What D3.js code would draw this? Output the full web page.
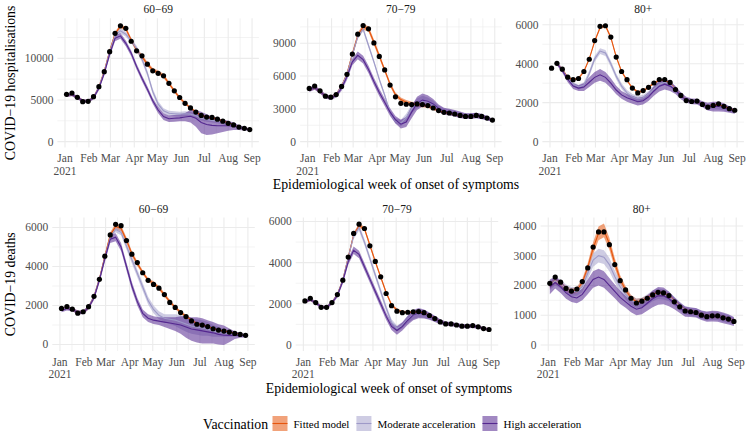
<!DOCTYPE html>
<html><head><meta charset="utf-8">
<script src="https://cdn.jsdelivr.net/npm/d3@7/dist/d3.min.js"></script>
<style>body{margin:0;background:#fff}svg{display:block}text{font-family:'Liberation Serif','Times New Roman',serif}</style>
</head><body><svg id="c" width="750" height="434"></svg>
<script>
// ---------- categories ----------
const weeks = ["2021-01-03","2021-01-10","2021-01-17","2021-01-24","2021-01-31","2021-02-07","2021-02-14","2021-02-21","2021-02-28","2021-03-07","2021-03-14","2021-03-21","2021-03-28","2021-04-04","2021-04-11","2021-04-18","2021-04-25","2021-05-02","2021-05-09","2021-05-16","2021-05-23","2021-05-30","2021-06-06","2021-06-13","2021-06-20","2021-06-27","2021-07-04","2021-07-11","2021-07-18","2021-07-25","2021-08-01","2021-08-08","2021-08-15","2021-08-22","2021-08-29"];
const monthBreaks = ["2021-01-01","2021-02-01","2021-03-01","2021-04-01","2021-05-01","2021-06-01","2021-07-01","2021-08-01","2021-09-01"];
const monthLabels = ["Jan\n2021","Feb","Mar","Apr","May","Jun","Jul","Aug","Sep"];
const scenarios = ["Fitted model","Moderate acceleration","High acceleration"];

// ---------- hospitalisations 60-69 ----------
const hosp6069Obs  = [5680,5840,5320,4800,4840,5400,6600,8400,10800,13000,13900,13600,12050,10900,10300,9300,8500,8200,7900,7000,6100,5300,4600,4050,3550,3150,2950,2900,2700,2450,2200,2000,1750,1600,1450];
const hosp6069Fit  = [5550,5650,5300,4900,4850,5300,6550,8450,10850,12950,13850,13550,12200,11000,10200,9300,8600,8300,7900,7000,6100,5250,4600,4050,3550,3150,2950,2850,2700,2450,2250,2000,1750,1600,1450];
const hosp6069FitW = [150,150,150,150,150,150,200,200,250,250,250,250,250,250,250,250,250,250,250,200,200,200,150,150,150,150,150,150,150,150,150,120,120,100,100];
const hosp6069Mod  = [5550,5650,5300,4900,4850,5300,6550,8400,10800,12800,13300,12900,12100,11200,9900,8200,6000,4500,3700,3400,3350,3300,3350,3300,3100,2800,2650,2550,2450,2300,2150,2000,1750,1600,1450];
const hosp6069ModW = [150,150,150,150,150,150,200,200,250,300,300,300,300,300,350,350,350,350,300,300,300,300,300,300,250,250,250,250,250,250,200,200,150,120,100];
const hosp6069High = [5550,5650,5300,4900,4850,5250,6400,8200,10500,12400,12700,11800,10600,9000,7600,6300,4900,3800,3000,2750,2800,2850,2950,3050,2800,2300,2050,1950,1900,1900,1900,1850,1700,1550,1450];
const hosp6069HighW= [200,200,200,200,200,200,250,250,300,350,350,350,350,350,350,350,350,400,400,400,400,400,500,750,1000,1300,1250,1100,900,750,600,450,300,200,150];
const hosp6069Ticks = [0,5000,10000];

// ---------- hospitalisations 70-79 ----------
const hosp7079Obs  = [4870,5090,4650,4160,4070,4310,5050,6160,8010,9830,10630,10320,9030,7800,6560,5180,4100,3510,3420,3390,3450,3390,3300,3080,2840,2680,2620,2530,2400,2310,2310,2400,2310,2160,1970];
const hosp7079Fit  = [4750,4950,4600,4150,4050,4300,5050,6200,8000,9700,10500,10300,9100,7850,6550,5250,4300,3850,3600,3450,3400,3350,3250,3050,2850,2700,2600,2500,2400,2300,2300,2350,2300,2150,1950];
const hosp7079FitW = [150,150,150,150,150,150,150,200,250,250,250,250,250,250,200,200,200,200,200,200,200,200,150,150,150,150,150,150,150,150,150,150,150,120,100];
const hosp7079Mod  = [4750,4950,4600,4150,4050,4300,5050,6150,7950,9600,10300,8800,7300,5700,4250,2650,1900,1700,2200,3000,3500,3750,3650,3400,3000,2800,2700,2600,2450,2350,2350,2400,2300,2150,1950];
const hosp7079ModW = [150,150,150,150,150,150,150,200,200,200,200,200,200,200,200,200,250,300,350,400,450,450,400,350,300,250,250,250,250,250,250,250,200,200,150];
const hosp7079High = [4750,4950,4600,4150,4000,4250,4900,5950,7300,7900,7500,6600,5500,4500,3600,2700,2000,1600,1800,2700,3500,3800,3700,3450,3050,2800,2700,2600,2450,2350,2350,2400,2300,2150,1950];
const hosp7079HighW= [200,200,200,200,200,200,250,300,300,350,350,350,350,350,350,350,350,400,450,550,600,600,550,450,350,300,300,300,300,250,250,250,250,200,150];
const hosp7079Ticks = [0,3000,6000,9000];

// ---------- hospitalisations 80+ ----------
const hosp80Obs  = [3770,4020,3720,3310,3180,3240,3600,4230,5190,5920,5950,5370,4340,3600,3180,2750,2500,2620,2790,3010,3190,3190,3040,2670,2370,2110,2060,2080,1910,1770,1860,1940,1810,1690,1610];
const hosp80Fit  = [null,4020,3700,3300,3180,3250,3600,4250,5150,5850,5950,5350,4350,3600,3150,2750,2550,2600,2800,3000,3150,3150,3000,2700,2400,2150,2070,2050,1920,1800,1850,1900,1800,1700,1600];
const hosp80FitW = [0,60,60,60,60,60,60,60,80,80,80,80,80,60,60,60,60,60,60,60,60,60,60,60,60,60,60,60,60,60,60,60,60,60,60];
const hosp80Mod  = [null,4020,3680,3250,2950,2800,2900,3500,4250,4650,4550,4000,3350,2850,2500,2300,2200,2250,2450,2700,2950,3050,2950,2700,2400,2150,2070,2050,1920,1800,1800,1800,1750,1650,1550];
const hosp80ModW = [0,100,100,100,100,120,150,150,150,150,150,150,150,150,150,150,150,150,150,150,150,150,150,130,120,100,100,100,100,120,150,150,150,120,100];
const hosp80High = [null,4020,3650,3200,2850,2750,2800,3050,3300,3430,3300,3000,2650,2400,2250,2150,2050,2100,2300,2600,2850,2950,2850,2650,2350,2150,2070,2050,1920,1800,1800,1800,1750,1650,1550];
const hosp80HighW= [0,100,120,150,150,150,200,250,280,300,280,250,220,200,200,200,200,200,220,250,280,280,250,200,170,150,150,150,150,200,250,250,220,170,120];
const hosp80Ticks = [0,2000,4000,6000];

// ---------- deaths 60-69 ----------
const death6069Obs  = [1850,1950,1815,1610,1680,1940,2470,3340,4530,5620,6160,6090,5330,4630,4200,3680,3290,3080,2890,2560,2160,1900,1640,1435,1210,1040,1000,920,810,740,690,640,570,520,470];
const death6069Fit  = [1800,1900,1800,1650,1650,1900,2450,3350,4500,5600,6050,5950,5350,4650,4150,3700,3300,3150,2900,2550,2200,1900,1650,1450,1250,1080,1000,920,820,740,690,640,580,520,480];
const death6069FitW = [80,80,80,80,80,80,100,120,150,150,150,150,150,130,120,100,100,100,100,100,90,80,80,80,80,70,70,60,60,60,60,50,50,50,50];
const death6069Mod  = [1800,1900,1800,1650,1650,1900,2450,3350,4450,5500,5900,5750,5050,4350,3650,2950,2250,1800,1500,1350,1300,1250,1150,1050,950,900,850,800,700,650,600,550,520,500,470];
const death6069ModW = [80,80,80,80,80,80,100,120,150,150,150,150,180,200,200,200,200,200,200,200,250,300,350,400,400,400,400,350,300,250,200,150,120,100,80];
const death6069High = [1750,1850,1800,1650,1650,1900,2400,3300,4400,5400,5500,5000,4000,3000,2200,1600,1350,1250,1200,1150,1100,1050,1000,900,800,750,700,650,600,520,480,470,480,470,450];
const death6069HighW= [100,100,100,100,100,100,120,150,180,200,200,200,200,200,200,200,200,200,200,250,300,350,450,550,600,650,650,600,550,520,500,350,200,120,80];
const death6069Ticks = [0,2000,4000,6000];

// ---------- deaths 70-79 ----------
const death7079Obs  = [2140,2270,2060,1830,1830,2060,2450,3150,4270,5420,5870,5660,4820,4060,3310,2500,1910,1640,1570,1590,1610,1620,1570,1430,1280,1120,1020,1020,970,910,910,940,880,795,750];
const death7079Fit  = [2100,2200,2050,1850,1820,2050,2450,3150,4250,5350,5800,5650,4850,4050,3300,2550,1950,1700,1600,1580,1600,1600,1550,1420,1280,1130,1040,1010,970,920,910,920,870,800,750];
const death7079FitW = [60,60,60,60,60,60,70,80,100,100,100,100,100,90,80,80,70,70,60,60,60,60,60,60,60,60,60,60,60,60,60,60,60,60,60];
const death7079Mod  = [2100,2200,2050,1850,1820,2050,2450,3150,4250,5300,5700,5000,4200,3400,2600,1800,1100,800,950,1250,1450,1550,1500,1400,1270,1130,1040,1010,970,920,910,920,870,800,750];
const death7079ModW = [60,60,60,60,60,60,80,100,120,150,150,150,150,150,150,150,150,150,150,180,200,200,180,150,120,100,80,80,80,80,80,80,80,60,60];
const death7079High = [2100,2200,2050,1850,1820,2050,2400,3100,4050,4600,4400,3800,3200,2600,2000,1400,900,700,900,1200,1450,1550,1500,1400,1270,1130,1040,1010,970,920,910,920,870,800,750];
const death7079HighW= [80,80,80,80,80,80,100,120,150,180,180,180,180,180,180,180,180,200,200,220,250,250,220,180,150,120,100,100,100,100,100,100,80,70,60];
const death7079Ticks = [0,2000,4000,6000];

// ---------- deaths 80+ ----------
const death80Obs  = [2070,2280,2110,1900,1810,1880,2130,2590,3290,3800,3800,3370,2700,2160,1850,1570,1410,1470,1570,1680,1770,1750,1660,1450,1280,1140,1115,1090,1000,950,980,980,910,870,790];
const death80Fit  = [2000,2150,2050,1880,1800,1850,2100,2600,3250,3750,3850,3400,2750,2200,1850,1580,1450,1480,1570,1680,1750,1730,1650,1480,1300,1160,1120,1090,1010,960,980,970,920,870,800];
const death80FitW = [100,100,100,100,100,100,120,150,200,230,230,200,170,140,120,100,100,100,100,100,100,100,90,80,80,80,80,80,80,80,80,80,80,80,80];
const death80Mod  = [2000,2150,2050,1880,1800,1800,1950,2400,2850,3000,2950,2700,2300,1950,1700,1500,1400,1420,1520,1650,1720,1700,1630,1470,1300,1160,1120,1090,1010,960,980,970,920,870,800];
const death80ModW = [150,150,150,150,150,150,180,200,220,230,230,220,200,180,170,160,160,170,180,180,180,170,160,150,150,140,140,140,140,140,140,140,140,130,120];
const death80High = [1950,2100,1950,1750,1620,1580,1700,1950,2200,2280,2200,2000,1800,1600,1450,1300,1200,1250,1400,1550,1650,1650,1550,1400,1250,1120,1100,1080,1000,950,970,960,910,860,790];
const death80HighW= [250,200,200,200,180,180,200,250,280,280,280,250,230,220,200,200,200,220,250,280,300,280,250,200,180,170,160,160,160,170,180,180,180,170,150];
const death80Ticks = [0,1000,2000,3000,4000];

// ---------- styling / layout ----------
const FONT = "'Liberation Serif','Times New Roman',serif";
const lineColors = ["#E6550D","#9E9AC8","#54278F"];
const fillColors = ["#E6550D","#9E9AC8","#54278F"];
const fillOpacity = [0.55,0.5,0.55];

const rows = [
  {top:18.3, bottom:147.5, yTitle:"COVID−19 hospitalisations", xTitleX:396, xTitleY:188.5, stripY:13},
  {top:217.5, bottom:351, yTitle:"COVID−19 deaths", xTitleX:389, xTitleY:393, stripY:212.5}
];

const panels = [
  {row:0, left:57.4, width:201.5, title:"60−69", obs:hosp6069Obs, s:[[hosp6069Fit,hosp6069FitW],[hosp6069Mod,hosp6069ModW],[hosp6069High,hosp6069HighW]], ticks:hosp6069Ticks},
  {row:0, left:300.1, width:201.5, title:"70−79", obs:hosp7079Obs, s:[[hosp7079Fit,hosp7079FitW],[hosp7079Mod,hosp7079ModW],[hosp7079High,hosp7079HighW]], ticks:hosp7079Ticks},
  {row:0, left:542.4, width:201.5, title:"80+", obs:hosp80Obs, s:[[hosp80Fit,hosp80FitW],[hosp80Mod,hosp80ModW],[hosp80High,hosp80HighW]], ticks:hosp80Ticks},
  {row:1, left:52.3, width:202.5, title:"60−69", obs:death6069Obs, s:[[death6069Fit,death6069FitW],[death6069Mod,death6069ModW],[death6069High,death6069HighW]], ticks:death6069Ticks},
  {row:1, left:295.7, width:202.5, title:"70−79", obs:death7079Obs, s:[[death7079Fit,death7079FitW],[death7079Mod,death7079ModW],[death7079High,death7079HighW]], ticks:death7079Ticks},
  {row:1, left:540.6, width:202.5, title:"80+", obs:death80Obs, s:[[death80Fit,death80FitW],[death80Mod,death80ModW],[death80High,death80HighW]], ticks:death80Ticks}
];

const svg = d3.select("#c");
const parse = d3.timeParse("%Y-%m-%d");
const dates = weeks.map(parse);
const mDates = monthBreaks.map(parse);
const d0 = dates[0], d1 = dates[dates.length-1];
const span = d1 - d0;
const xDomain = [new Date(+d0 - 0.05*span), new Date(+d1 + 0.05*span)];

function txt(sel) { return sel.append("text").attr("font-family", FONT); }

panels.forEach(p => {
  const r = rows[p.row];
  const x = d3.scaleTime().domain(xDomain).range([p.left, p.left + p.width]);
  let lo = 0, hi = d3.max(p.obs);
  p.s.forEach(([v,w]) => v.forEach((d,i) => { if (d != null) { lo = Math.min(lo, d - w[i]); hi = Math.max(hi, d + w[i]); } }));
  const pad = 0.05*(hi - lo);
  const y = d3.scaleLinear().domain([lo - pad, hi + pad]).range([r.bottom, r.top]);
  const g = svg.append("g");

  // minor grid
  const step = p.ticks[1] - p.ticks[0];
  const yMinor = [];
  for (let i = 0; i < p.ticks.length; i++) {
    const m = p.ticks[i] + step/2;
    if (m <= y.domain()[1]) yMinor.push(m);
  }
  const xMinor = [];
  for (let i = 0; i < mDates.length - 1; i++) xMinor.push(new Date((+mDates[i] + +mDates[i+1])/2));
  g.selectAll(".ymin").data(yMinor).join("line")
    .attr("x1", p.left).attr("x2", p.left + p.width).attr("y1", d => y(d)).attr("y2", d => y(d))
    .attr("stroke", "#EBEBEB").attr("stroke-width", 0.6);
  g.selectAll(".xmin").data(xMinor).join("line")
    .attr("x1", d => x(d)).attr("x2", d => x(d)).attr("y1", r.top).attr("y2", r.bottom)
    .attr("stroke", "#EBEBEB").attr("stroke-width", 0.6);
  // major grid
  g.selectAll(".ymaj").data(p.ticks).join("line")
    .attr("x1", p.left).attr("x2", p.left + p.width).attr("y1", d => y(d)).attr("y2", d => y(d))
    .attr("stroke", "#EBEBEB").attr("stroke-width", 1.1);
  g.selectAll(".xmaj").data(mDates).join("line")
    .attr("x1", d => x(d)).attr("x2", d => x(d)).attr("y1", r.top).attr("y2", r.bottom)
    .attr("stroke", "#EBEBEB").attr("stroke-width", 1.1);

  // ribbons
  p.s.forEach(([v,w], k) => {
    const area = d3.area().defined((d,i) => v[i] != null)
      .x((d,i) => x(dates[i])).y0((d,i) => y(v[i] - w[i])).y1((d,i) => y(v[i] + w[i]));
    g.append("path").attr("d", area(v)).attr("fill", fillColors[k]).attr("fill-opacity", fillOpacity[k]);
  });
  // lines
  p.s.forEach(([v,w], k) => {
    const line = d3.line().defined(d => d != null).x((d,i) => x(dates[i])).y(d => y(d));
    g.append("path").attr("d", line(v)).attr("fill", "none").attr("stroke", lineColors[k]).attr("stroke-width", 1.1);
  });
  // observed points
  g.selectAll(".pt").data(p.obs).join("circle")
    .attr("cx", (d,i) => x(dates[i])).attr("cy", d => y(d)).attr("r", 2.6).attr("fill", "#000");

  // y tick labels
  p.ticks.forEach(d => {
    txt(g).attr("x", p.left - 4).attr("y", y(d)).attr("dy", "0.34em")
      .attr("text-anchor", "end").attr("font-size", 11.5).attr("fill", "#4D4D4D").text(d);
  });
  // x tick labels
  mDates.forEach((d, i) => {
    const t = txt(g).attr("x", x(d)).attr("y", r.bottom + 14.5)
      .attr("text-anchor", "middle").attr("font-size", 11.5).attr("fill", "#4D4D4D");
    monthLabels[i].split("\n").forEach((s, j) => t.append("tspan").attr("x", x(d)).attr("dy", j ? 12.5 : 0).text(s));
  });
  // strip title
  txt(g).attr("x", p.left + p.width/2).attr("y", r.stripY).attr("text-anchor", "middle")
    .attr("font-size", 11.5).attr("fill", "#1A1A1A").text(p.title);
});

// axis titles
rows.forEach(r => {
  txt(svg).attr("x", r.xTitleX).attr("y", r.xTitleY).attr("text-anchor", "middle")
    .attr("font-size", 13.8).attr("fill", "#000").text("Epidemiological week of onset of symptoms");
  const cy = (r.top + r.bottom)/2;
  txt(svg).attr("transform", `translate(15,${cy}) rotate(-90)`).attr("text-anchor", "middle")
    .attr("font-size", 13.8).attr("fill", "#000").text(r.yTitle);
});

// legend
const lg = svg.append("g");
txt(lg).attr("x", 203).attr("y", 428.5).attr("font-size", 13.8).attr("fill", "#000").text("Vaccination");
let lx = 272.5;
scenarios.forEach((s, k) => {
  lg.append("rect").attr("x", lx).attr("y", 416).attr("width", 15).attr("height", 15)
    .attr("fill", fillColors[k]).attr("fill-opacity", fillOpacity[k]);
  lg.append("line").attr("x1", lx).attr("x2", lx + 15).attr("y1", 423.5).attr("y2", 423.5)
    .attr("stroke", lineColors[k]).attr("stroke-width", 1.1);
  const t = txt(lg).attr("x", lx + 21).attr("y", 427.5).attr("font-size", 11).attr("fill", "#000").text(s);
  lx = lx + 21 + t.node().getComputedTextLength() + 7;
});
</script>
</body></html>
